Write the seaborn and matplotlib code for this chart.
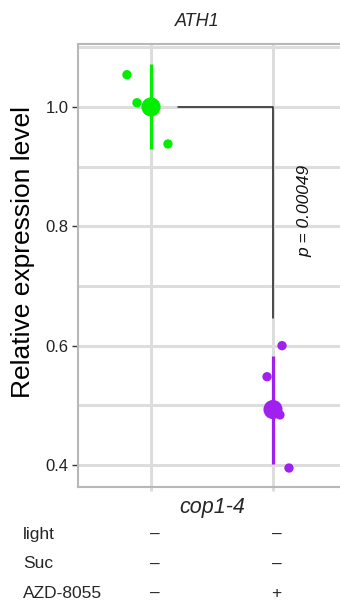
import matplotlib
matplotlib.use('Agg')
import matplotlib.pyplot as plt
import matplotlib.transforms as mtransforms
import seaborn as sns
import pandas as pd

# data
groups = ['ctrl', 'AZD']
group_colors = ['#00EE00', '#A020F0']
pt_group = [0, 0, 0, 1, 1, 1, 1]
pt_jitter = [-0.197, -0.115, 0.139, 0.074, -0.049, 0.057, 0.131]
pt_values = [1.054, 1.007, 0.938, 0.600, 0.548, 0.484, 0.395]
mean_values = [1.000, 0.493]
err_low = [0.930, 0.402]
err_high = [1.072, 0.582]
p_label = 'p = 0.00049'
bracket_top = 1.0
bracket_bottom = 0.646
row_names = ['light', 'Suc', 'AZD-8055']
row_signs = [['–', '–'], ['–', '–'], ['–', '+']]

sns.set_theme(style='white')
plt.rcParams['font.family'] = ['Liberation Sans', 'DejaVu Sans']

pts = pd.DataFrame({'grp': [groups[g] for g in pt_group],
                    'x': [g + j for g, j in zip(pt_group, pt_jitter)],
                    'value': pt_values})
means = pd.DataFrame({'grp': groups, 'x': [0, 1], 'value': mean_values})
pal = dict(zip(groups, group_colors))

W, H = 340, 601
fig = plt.figure(figsize=(W / 100, H / 100), dpi=100)
ax = fig.add_axes([78 / W, (H - 487) / H, 1 - 78 / W, (487 - 44) / H])

ax.set_xlim(-73 / 122, 1 + 67 / 122)
ax.set_ylim(0.4 - 22 / 597.5, 1.0 + 63 / 597.5)

# grid
for y in [0.4, 0.5, 0.6, 0.7, 0.8, 0.9, 1.0, 1.1]:
    ax.axhline(y, color='#DDDDDD', lw=2.2, zorder=0)
for x in [0, 1]:
    ax.axvline(x, color='#DDDDDD', lw=2.2, zorder=0)

ax.vlines([0, 1], err_low, err_high, colors=group_colors, lw=2.3, zorder=2)
sns.scatterplot(data=means, x='x', y='value', hue='grp', palette=pal, s=190,
                linewidth=0, legend=False, ax=ax, zorder=3)
sns.scatterplot(data=pts, x='x', y='value', hue='grp', palette=pal, s=45,
                linewidth=0, legend=False, ax=ax, zorder=3)

# significance bracket
ax.plot([0.22, 1, 1], [bracket_top, bracket_top, bracket_bottom], color='#222222', lw=1.1, zorder=2)
ax.text(1.265, 0.825, p_label, rotation=90, ha='center', va='center',
        fontsize=12.5, style='italic', color='#111111')

ax.set_yticks([0.4, 0.6, 0.8, 1.0])
ax.set_yticklabels(['0.4', '0.6', '0.8', '1.0'])
ax.set_xticks([0, 1])
ax.set_xticklabels([])
ax.tick_params(axis='y', left=True, length=4, width=1, color='#333333', pad=3,
               labelsize=12, labelcolor='#222222')
ax.tick_params(axis='x', bottom=True, length=3, width=2.2, color='#DDDDDD')
ax.set_xlabel('')
ax.set_ylabel('')
for side in ['left', 'top', 'bottom']:
    ax.spines[side].set_color('#B8B8B8')
    ax.spines[side].set_linewidth(1.5)
ax.spines['right'].set_visible(False)

fig.text(23 / W, 1 - 252 / H, 'Relative expression level', rotation=90,
         ha='center', va='center', fontsize=19, color='black')
fig.text(197 / W, 1 - 22 / H, 'ATH1', ha='center', va='center',
         fontsize=13, style='italic')
fig.text(212 / W, 1 - 507 / H, 'cop1-4', ha='center', va='center',
         fontsize=15.5, style='italic')

# condition table below the axis, one baseline per row
trans = mtransforms.blended_transform_factory(ax.transData, fig.transFigure)
for i, (name, signs) in enumerate(zip(row_names, row_signs)):
    yy = 1 - (539 + 29.5 * i) / H
    fig.text(23 / W, yy, name, ha='left', va='baseline', fontsize=12.5)
    for g, s in enumerate(signs):
        ax.text(g + 0.03, yy, s, transform=trans, ha='center', va='baseline',
                fontsize=12.5, clip_on=False)

fig.savefig('out.png', dpi=100)
